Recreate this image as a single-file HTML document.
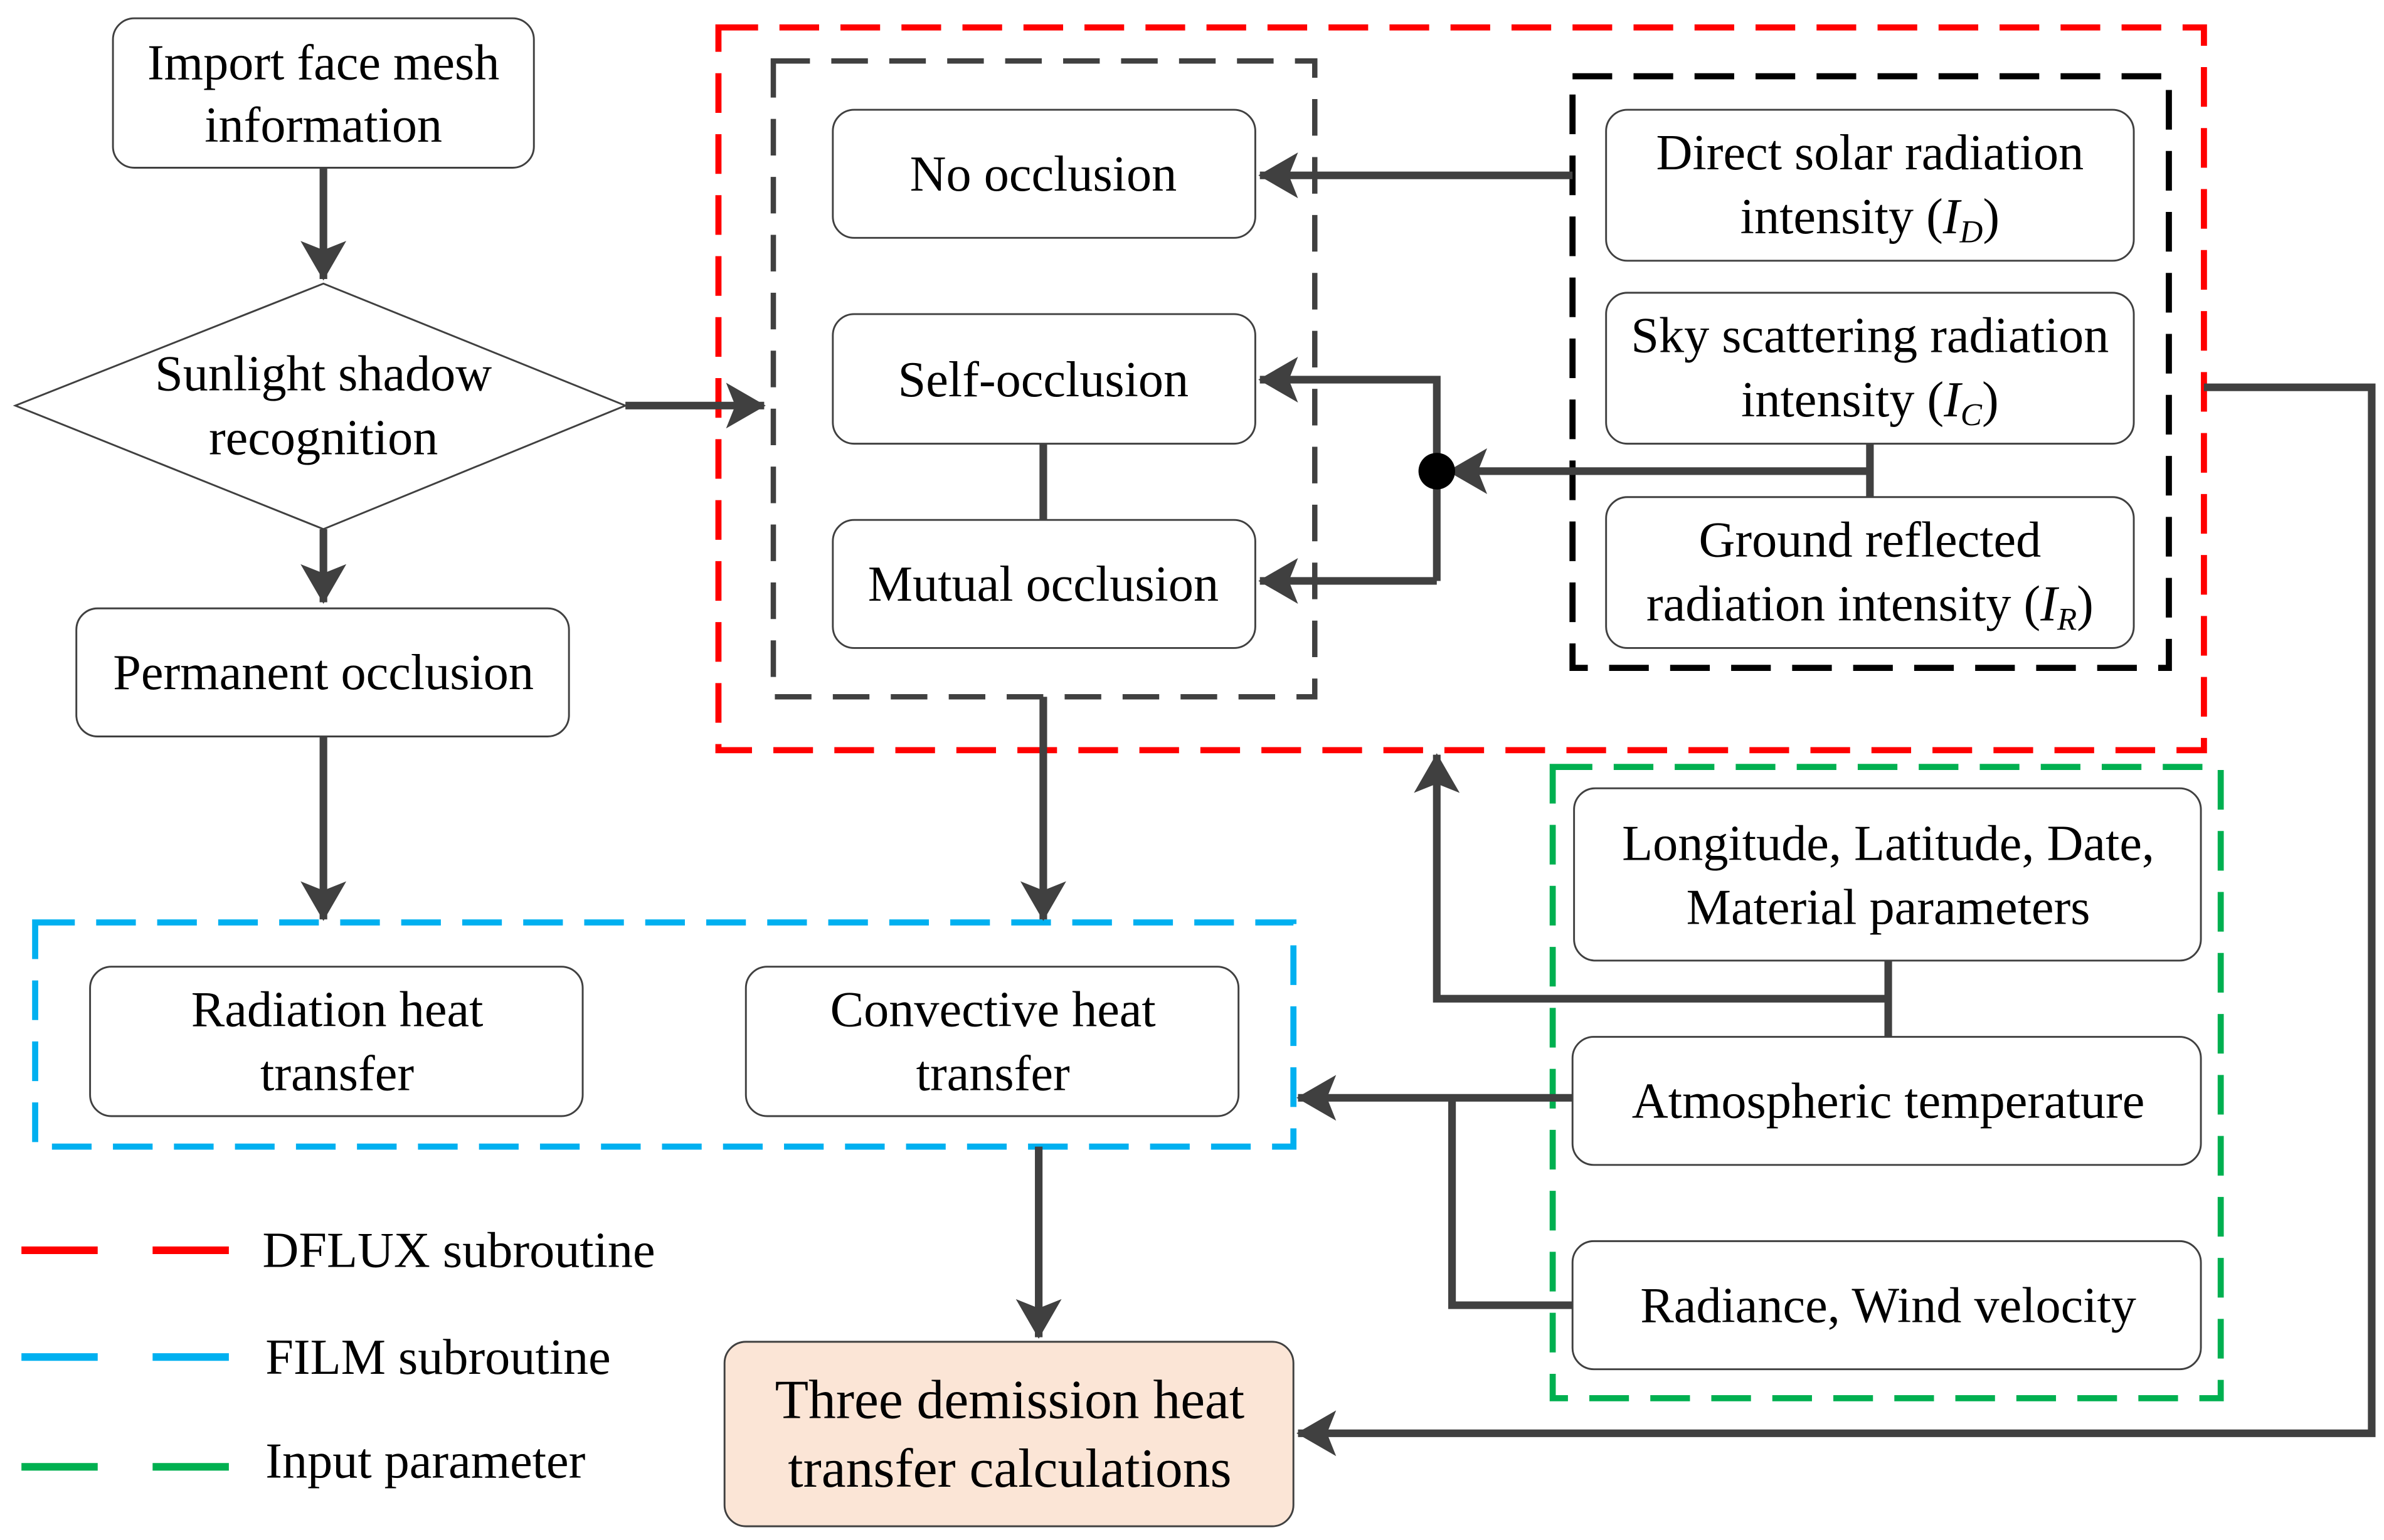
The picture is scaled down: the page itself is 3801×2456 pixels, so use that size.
<!DOCTYPE html>
<html><head><meta charset="utf-8"><style>html,body{margin:0;padding:0;background:#fff}svg{display:block}text{font-family:"Liberation Serif","Times New Roman",serif}</style></head>
<body>
<svg width="3801" height="2456" viewBox="0 0 1563 1010" xmlns="http://www.w3.org/2000/svg" style="font-family:'Liberation Serif',serif" font-size="33" text-anchor="middle">
<defs>
<marker id="a" markerWidth="6" markerHeight="6" refX="5" refY="3" orient="auto" markerUnits="strokeWidth"><path d="M0,0 L5.2,3 L0,6 L1.2,3 z" fill="#404040"/></marker>
</defs>
<rect width="1563" height="1010" fill="#fff"/>
<g fill="none" stroke-width="4">
<rect x="471" y="18" width="974" height="474" stroke="#ff0000" stroke-dasharray="26,14"/>
<rect x="507" y="40" width="355" height="417" stroke="#404040" stroke-width="3.5" stroke-dasharray="24,14"/>
<rect x="1031" y="50" width="391" height="388" stroke="#000" stroke-dasharray="26,14"/>
<rect x="23" y="605" width="825" height="147" stroke="#00b0f0" stroke-dasharray="26,14"/>
<rect x="1018" y="503" width="438" height="414" stroke="#00b050" stroke-dasharray="26,14"/>
<line x1="14" y1="820" x2="150" y2="820" stroke="#ff0000" stroke-width="5" stroke-dasharray="50,36"/>
<line x1="14" y1="890" x2="150" y2="890" stroke="#00b0f0" stroke-width="5" stroke-dasharray="50,36"/>
<line x1="14" y1="962" x2="150" y2="962" stroke="#00b050" stroke-width="5" stroke-dasharray="50,36"/>
</g>
<g fill="#fff" stroke="#404040" stroke-width="1.2">
<rect x="74" y="12" width="276" height="98" rx="14"/>
<polygon points="10,266 212,186 410,266 212,347"/>
<rect x="50" y="399" width="323" height="84" rx="14"/>
<rect x="546" y="72" width="277" height="84" rx="14"/>
<rect x="546" y="206" width="277" height="85" rx="14"/>
<rect x="546" y="341" width="277" height="84" rx="14"/>
<rect x="1053" y="72" width="346" height="99" rx="14"/>
<rect x="1053" y="192" width="346" height="99" rx="14"/>
<rect x="1053" y="326" width="346" height="99" rx="14"/>
<rect x="59" y="634" width="323" height="98" rx="14"/>
<rect x="489" y="634" width="323" height="98" rx="14"/>
<rect x="475" y="880" width="373" height="121" rx="14" fill="#fbe5d6"/>
<rect x="1032" y="517" width="411" height="113" rx="14"/>
<rect x="1031" y="680" width="412" height="84" rx="14"/>
<rect x="1031" y="814" width="412" height="84" rx="14"/>
</g>
<g fill="none" stroke="#404040" stroke-width="5" stroke-linejoin="miter">
<line x1="212" y1="110" x2="212" y2="183" marker-end="url(#a)"/>
<line x1="410" y1="266" x2="501" y2="266" marker-end="url(#a)"/>
<line x1="212" y1="347" x2="212" y2="395" marker-end="url(#a)"/>
<line x1="212" y1="483" x2="212" y2="603" marker-end="url(#a)"/>
<line x1="684" y1="291" x2="684" y2="341"/>
<line x1="1031" y1="115" x2="826" y2="115" marker-end="url(#a)"/>
<line x1="1226" y1="291" x2="1226" y2="326"/>
<line x1="1226" y1="309" x2="950" y2="309" marker-end="url(#a)"/>
<polyline points="942,381 942,249 826,249" marker-end="url(#a)"/>
<line x1="942" y1="381" x2="826" y2="381" marker-end="url(#a)"/>
<polyline points="1445,254 1555,254 1555,940 851,940" marker-end="url(#a)"/>
<line x1="684" y1="457" x2="684" y2="603" marker-end="url(#a)"/>
<line x1="681" y1="752" x2="681" y2="877" marker-end="url(#a)"/>
<line x1="1238" y1="630" x2="1238" y2="680"/>
<polyline points="1238,655 942,655 942,495" marker-end="url(#a)"/>
<line x1="1031" y1="720" x2="851" y2="720" marker-end="url(#a)"/>
<polyline points="952,720 952,856 1031,856"/>
</g>
<circle cx="942" cy="309" r="12" fill="#000"/>
<g fill="#000">
<text x="212" y="52">Import face mesh</text><text x="212" y="93">information</text>
<text x="212" y="256">Sunlight shadow</text><text x="212" y="298">recognition</text>
<text x="212" y="452">Permanent occlusion</text>
<text x="684" y="125">No occlusion</text>
<text x="684" y="260">Self-occlusion</text>
<text x="684" y="394">Mutual occlusion</text>
<text x="1226" y="111">Direct solar radiation</text><text x="1226" y="153">intensity (<tspan font-style="italic">I</tspan><tspan font-style="italic" font-size="21" dy="6">D</tspan><tspan dy="-6">)</tspan></text>
<text x="1226" y="231">Sky scattering radiation</text><text x="1226" y="273">intensity (<tspan font-style="italic">I</tspan><tspan font-style="italic" font-size="21" dy="6">C</tspan><tspan dy="-6">)</tspan></text>
<text x="1226" y="365">Ground reflected</text><text x="1226" y="407">radiation intensity (<tspan font-style="italic">I</tspan><tspan font-style="italic" font-size="21" dy="6">R</tspan><tspan dy="-6">)</tspan></text>
<text x="221" y="673">Radiation heat</text><text x="221" y="715">transfer</text>
<text x="651" y="673">Convective heat</text><text x="651" y="715">transfer</text>
<text x="662" y="930" font-size="36">Three demission heat</text><text x="662" y="975" font-size="36">transfer calculations</text>
<text x="1238" y="564">Longitude, Latitude, Date,</text><text x="1238" y="606">Material parameters</text>
<text x="1238" y="733">Atmospheric temperature</text>
<text x="1238" y="867">Radiance, Wind velocity</text>
<g text-anchor="start"><text x="172" y="831">DFLUX subroutine</text><text x="174" y="901">FILM subroutine</text><text x="174" y="969">Input parameter</text></g>
</g>
</svg>
</body></html>
